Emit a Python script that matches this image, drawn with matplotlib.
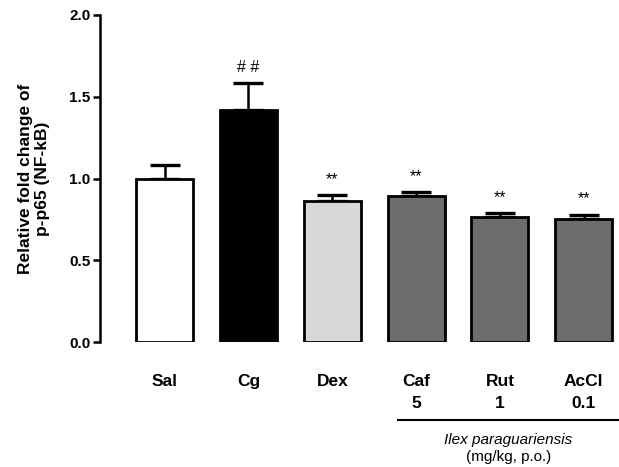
import numpy as np
import matplotlib.pyplot as plt

plt.rcParams['font.family'] = ['Liberation Sans', 'DejaVu Sans']

groups = ['Sal', 'Cg', 'Dex', 'Caf\n5', 'Rut\n1', 'AcCl\n0.1']
means = [1.00, 1.42, 0.865, 0.89, 0.765, 0.752]
sems = [0.085, 0.165, 0.032, 0.027, 0.022, 0.027]
marks = ['', '# #', '**', '**', '**', '**']
colors = ['white', 'black', '#d8d8d8', '#6d6d6d', '#6d6d6d', '#6d6d6d']

fig = plt.figure(figsize=(6.19, 4.67), dpi=100)
ax = fig.add_axes([100/619, 1-342/467, 519/619, 327/467])

x = np.arange(len(groups))
ax.bar(x, means, width=0.68, color=colors, edgecolor='black', linewidth=2.0, zorder=3)
ax.errorbar(x, means, yerr=[np.zeros(len(sems)), sems], fmt='none', ecolor='black',
            elinewidth=1.8, capsize=11, capthick=2.4, zorder=2)
for xi, m, s, t in zip(x, means, sems, marks):
    if t:
        ax.text(xi, m + s + 0.05, t, ha='center', va='bottom', fontsize=11.5)

ax.set_xlim(-0.77, 5.42)
ax.set_ylim(0, 2.0)
ax.set_yticks([0, 0.5, 1.0, 1.5, 2.0])
ax.set_yticklabels(['0.0', '0.5', '1.0', '1.5', '2.0'], fontweight='bold', fontsize=11)
ax.set_xticks(x)
ax.set_xticklabels(groups, fontweight='bold', fontsize=12.5, linespacing=1.55, va='top')
ax.tick_params(axis='x', length=0, pad=23)
ax.tick_params(axis='y', length=5, width=1.8, pad=2)
for s in ['top', 'right', 'bottom']:
    ax.spines[s].set_visible(False)
ax.spines['left'].set_linewidth(1.8)
ax.set_ylabel('Relative fold change of\np-p65 (NF-kB)', fontweight='bold', fontsize=12.5,
              labelpad=14, linespacing=1.15)

ax.plot([2.79, 5.42], [-0.48, -0.48], color='black', lw=1.5, clip_on=False)
ax.text(4.1, -0.6, 'Ilex paraguariensis', style='italic', ha='center', va='center', fontsize=11)
ax.text(4.1, -0.705, '(mg/kg, p.o.)', ha='center', va='center', fontsize=11)

fig.savefig('out.png', dpi=100)
